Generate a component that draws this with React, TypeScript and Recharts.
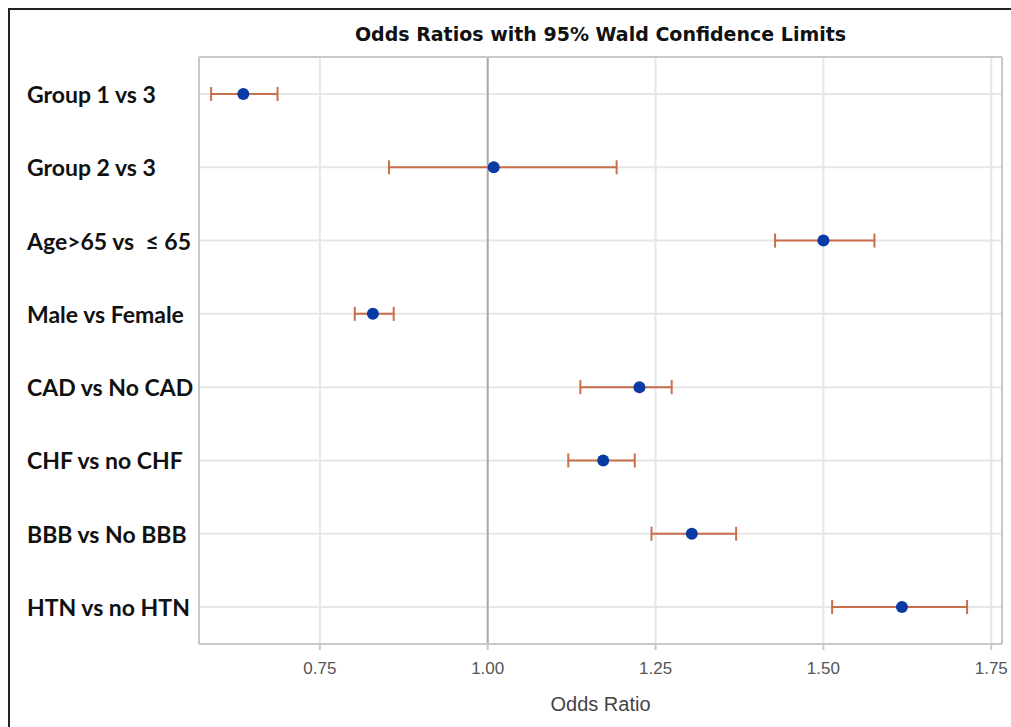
import React from 'react';
import { ComposedChart, Scatter, XAxis, YAxis, CartesianGrid, ErrorBar, ReferenceLine } from 'recharts';

const labels = ['Group 1 vs 3', 'Group 2 vs 3', 'Age>65 vs  \u2264 65', 'Male vs Female', 'CAD vs No CAD', 'CHF vs no CHF', 'BBB vs No BBB', 'HTN vs no HTN'];
const oddsRatio = [0.636, 1.009, 1.5, 0.829, 1.226, 1.172, 1.304, 1.617];
const lowerCL = [0.588, 0.853, 1.428, 0.802, 1.138, 1.12, 1.244, 1.513];
const upperCL = [0.687, 1.192, 1.576, 0.86, 1.274, 1.219, 1.37, 1.714];
const xTicks = [0.75, 1.0, 1.25, 1.5, 1.75];
const xDomain = [0.57, 1.766];

const data = labels.map((label, i) => ({
  label,
  or: oddsRatio[i],
  err: [oddsRatio[i] - lowerCL[i], upperCL[i] - oddsRatio[i]],
}));

const frame = '#c6cacf';
const sans = "'Liberation Sans', Arial, sans-serif";

const YTick = (props: any) => {
  const { y, payload } = props;
  return (
    <text
      x={17}
      y={y}
      dominantBaseline="central"
      textAnchor="start"
      fontFamily="Lato, 'Open Sans', sans-serif"
      fontWeight={700}
      fontSize={23}
      fill="#111"
      style={{ whiteSpace: 'pre' }}
    >
      {payload.value}
    </text>
  );
};

export default function App() {
  return (
    <div
      style={{
        position: 'fixed',
        top: 8,
        left: 8,
        width: 1001,
        height: 717,
        borderTop: '2px solid #222',
        borderLeft: '2px solid #222',
        background: '#fff',
      }}
    >
      <div
        style={{
          position: 'absolute',
          top: 13,
          left: 189,
          width: 803,
          textAlign: 'center',
          fontFamily: "'DejaVu Sans', sans-serif",
          fontWeight: 700,
          fontSize: 19,
          color: '#111',
          whiteSpace: 'nowrap',
        }}
      >
        Odds Ratios with 95% Wald Confidence Limits
      </div>
      <ComposedChart
        width={1001}
        height={717}
        data={data}
        layout="vertical"
        margin={{ top: 46, right: 8, left: 0, bottom: 0 }}
        style={{ overflow: 'visible' }}
      >
        <CartesianGrid stroke="#e6e6e6" strokeWidth={2} />
        <XAxis
          type="number"
          dataKey="or"
          domain={xDomain}
          ticks={xTicks}
          allowDataOverflow
          tickFormatter={(v: number) => v.toFixed(2)}
          height={83}
          tickSize={6}
          tickMargin={12}
          tickLine={{ stroke: frame, strokeWidth: 2 }}
          axisLine={{ stroke: frame, strokeWidth: 2 }}
          tick={{ fill: '#555', fontSize: 17, fontFamily: sans }}
          label={{
            value: 'Odds Ratio',
            position: 'insideBottom',
            offset: 16,
            fill: '#444',
            fontSize: 20,
            fontFamily: sans,
          }}
        />
        <XAxis
          xAxisId="top"
          orientation="top"
          type="number"
          domain={xDomain}
          allowDataOverflow
          height={1}
          tick={false}
          tickLine={false}
          axisLine={{ stroke: frame, strokeWidth: 2 }}
        />
        <YAxis
          type="category"
          dataKey="label"
          width={189}
          padding={{ top: 37, bottom: 37 }}
          tickLine={false}
          axisLine={{ stroke: frame, strokeWidth: 2 }}
          tick={<YTick />}
          interval={0}
        />
        <YAxis
          yAxisId="right"
          orientation="right"
          type="category"
          dataKey="label"
          width={1}
          tick={false}
          tickLine={false}
          axisLine={{ stroke: frame, strokeWidth: 2 }}
        />
        <ReferenceLine x={1} stroke="#a9abae" strokeWidth={2} />
        <Scatter dataKey="or" fill="#0a3aa3" isAnimationActive={false} shape={(p: any) => <circle cx={p.cx} cy={p.cy} r={6} fill="#0a3aa3" />}>
          <ErrorBar dataKey="err" direction="x" width={7} stroke="#c86e4a" strokeWidth={2} />
        </Scatter>
      </ComposedChart>
    </div>
  );
}
